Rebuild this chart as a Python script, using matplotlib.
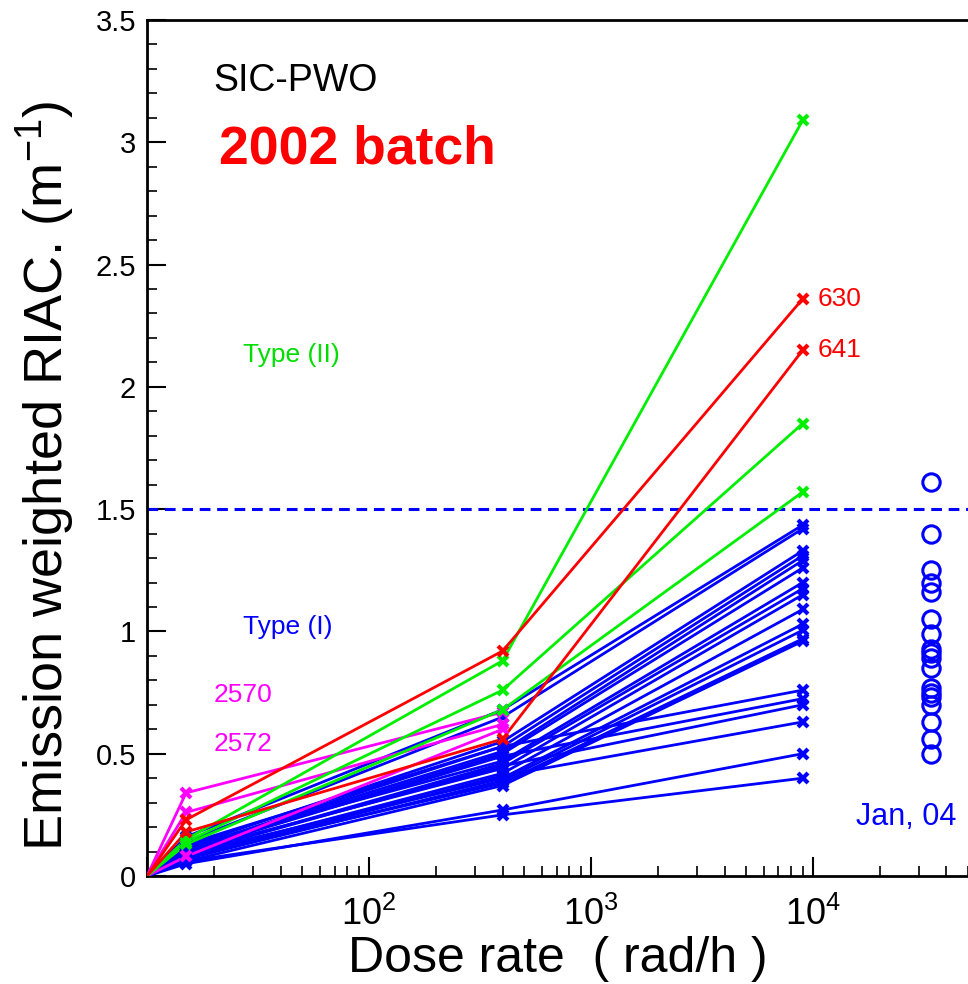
## RIAC vs dose rate for the 2002 SIC-PWO batch

import numpy as np
import matplotlib
matplotlib.use('Agg')
import matplotlib.pyplot as plt
from matplotlib.ticker import FixedLocator, LogLocator, NullFormatter, FuncFormatter

plt.rcParams['font.family'] = ['Liberation Sans', 'DejaVu Sans']
plt.rcParams['mathtext.fontset'] = 'custom'
plt.rcParams['mathtext.rm'] = 'Liberation Sans'
plt.rcParams['mathtext.it'] = 'Liberation Sans:italic'

# dose rates (rad/h); every crystal starts at (10, 0)
dose = [10, 15, 400, 9000]
dose_short = [10, 15, 400]
dose_jan = 34000

# Type (II) crystals, green
type2 = [
    [0, 0.15, 0.88, 3.09],
    [0, 0.14, 0.76, 1.85],
    [0, 0.13, 0.68, 1.57],
]

# labelled red crystals
red_ids = ['630', '641']
red = [
    [0, 0.23, 0.92, 2.36],
    [0, 0.18, 0.56, 2.15],
]

# magenta crystals, measured only up to 400 rad/h
mag_ids = ['2570', '2572', '']
magenta = [
    [0, 0.34, 0.67],
    [0, 0.26, 0.62],
    [0, 0.08, 0.60],
]

# Type (I) crystals, blue
type1 = [
    [0, 0.16, 0.68, 1.435],
    [0, 0.14, 0.65, 1.42],
    [0, 0.12, 0.55, 1.33],
    [0, 0.13, 0.53, 1.31],
    [0, 0.11, 0.51, 1.29],
    [0, 0.10, 0.50, 1.26],
    [0, 0.12, 0.47, 1.20],
    [0, 0.09, 0.46, 1.175],
    [0, 0.10, 0.44, 1.15],
    [0, 0.08, 0.42, 1.09],
    [0, 0.09, 0.40, 1.03],
    [0, 0.07, 0.39, 1.005],
    [0, 0.08, 0.38, 0.97],
    [0, 0.06, 0.37, 0.96],
    [0, 0.11, 0.53, 0.76],
    [0, 0.10, 0.49, 0.725],
    [0, 0.09, 0.45, 0.70],
    [0, 0.07, 0.41, 0.63],
    [0, 0.05, 0.27, 0.50],
    [0, 0.06, 0.25, 0.40],
]

# Jan 04 measurements (open circles)
jan04 = [1.61, 1.40, 1.25, 1.20, 1.16, 1.05, 0.99, 0.93, 0.91, 0.89,
         0.85, 0.77, 0.75, 0.73, 0.70, 0.63, 0.56, 0.50]

limit = 1.5

fig = plt.figure(figsize=(9.68, 9.84), dpi=100)
ax = fig.add_axes([147/968, 1-876/984, 1-147/968, 856/984])

def draw(xs, ys, color):
    ax.plot(xs, ys, color=color, lw=2, zorder=3)
    ax.plot(xs[1:], ys[1:], ls='none', marker='x', ms=6.5, mew=3, color=color, zorder=4)

for ys in type1:
    draw(dose, ys, '#0000ff')
for ys in magenta:
    draw(dose_short, ys, '#ff00ff')
for ys in type2:
    draw(dose, ys, '#00ee00')
for ys in red:
    draw(dose, ys, '#ff0000')

ax.plot([dose_jan]*len(jan04), jan04, ls='none', marker='o', ms=12.5, mfc='none',
        mec='#0000ff', mew=2.2, zorder=4)
ax.axhline(limit, color='#0000ff', ls=(0, (3.5, 2.2)), lw=2.2, zorder=2)

ax.set_xscale('log')
ax.set_xlim(10, 50000)
ax.set_ylim(0, 3.5)

ax.xaxis.set_major_locator(FixedLocator([10, 100, 1000, 10000]))
ax.xaxis.set_major_formatter(FuncFormatter(
    lambda v, p: '' if v < 50 else r'$\mathregular{10^{%d}}$' % round(np.log10(v))))
ax.xaxis.set_minor_locator(LogLocator(base=10, subs=np.arange(2, 10)))
ax.xaxis.set_minor_formatter(NullFormatter())
ax.set_yticks(np.arange(0, 3.51, 0.5))
ax.set_yticklabels(['0', '0.5', '1', '1.5', '2', '2.5', '3', '3.5'])
ax.yaxis.set_minor_locator(FixedLocator(np.arange(0, 3.51, 0.1)))

ax.tick_params(which='major', direction='in', length=14, width=1.5, labelsize=21, pad=8)
ax.tick_params(which='minor', direction='in', length=7, width=1.2)
ax.tick_params(axis='x', which='major', labelsize=26, pad=15)
ax.spines['right'].set_visible(False)
for s in ['left', 'bottom', 'top']:
    ax.spines[s].set_linewidth(2)

ax.set_xlabel('Dose rate  ( rad/h )', fontsize=36, labelpad=2)
ax.set_ylabel(r'Emission weighted RIAC. (m$^{-1}$)', fontsize=39)
ax.yaxis.set_label_coords(-0.085, 0.468)

# annotations
ax.text(20, 3.25, 'SIC-PWO', fontsize=27, va='center')
ax.text(21, 2.97, '2002 batch', fontsize=38.5, color='#ff0000', fontweight='bold', va='center')
ax.text(27, 2.13, 'Type (II)', fontsize=19, color='#00dd00', va='center')
ax.text(27, 1.02, 'Type (I)', fontsize=19, color='#0000ff', va='center')
ax.text(20, 0.74, mag_ids[0], fontsize=19, color='#ff00ff', va='center')
ax.text(20, 0.54, mag_ids[1], fontsize=19, color='#ff00ff', va='center')
for ys, name in zip(red, red_ids):
    ax.text(10500, ys[-1], name, fontsize=19, color='#ff0000', va='center')
ax.text(15700, 0.24, 'Jan, 04', fontsize=22, color='#0000ff', va='center')

fig.savefig('out.png', dpi=100)
